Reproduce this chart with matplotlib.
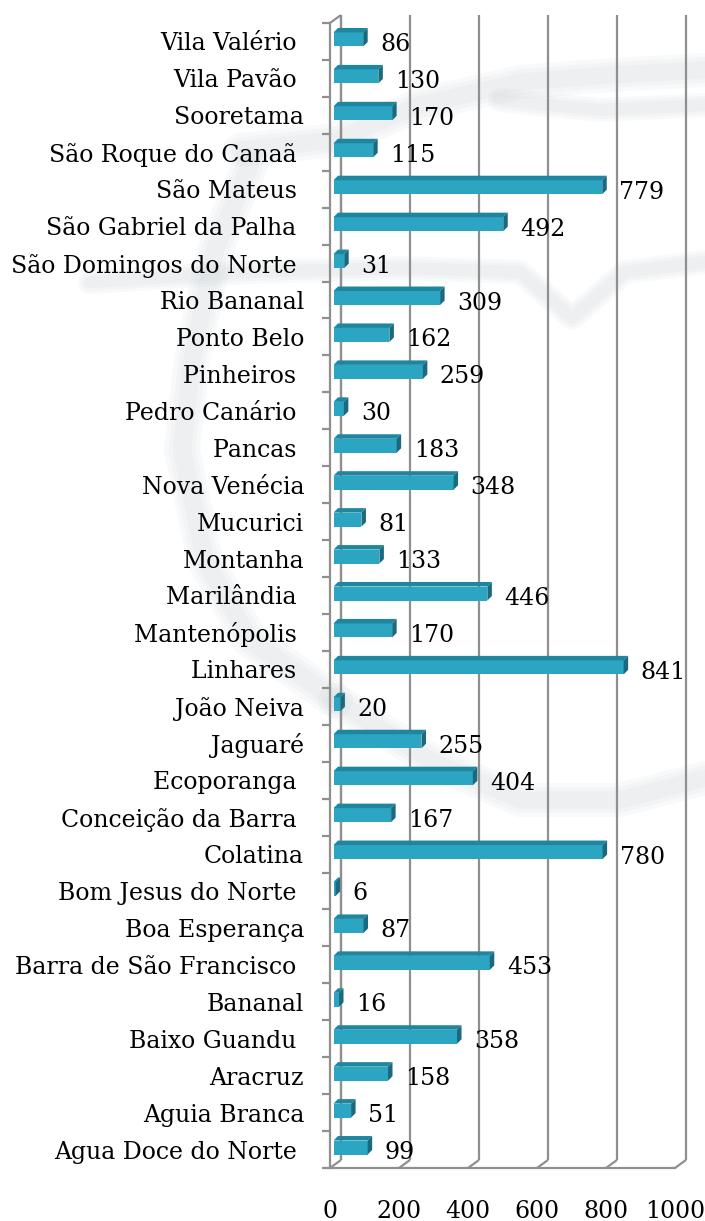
import matplotlib
matplotlib.use('Agg')
import matplotlib.pyplot as plt
from matplotlib.patches import Polygon
import numpy as np

# ---------------- data (top to bottom as shown) ----------------
categories = [
    "Vila Valério ", "Vila Pavão ", "Sooretama", "São Roque do Canaã ",
    "São Mateus ", "São Gabriel da Palha ", "São Domingos do Norte ",
    "Rio Bananal", "Ponto Belo", "Pinheiros ", "Pedro Canário ", "Pancas ",
    "Nova Venécia", "Mucurici", "Montanha", "Marilândia ", "Mantenópolis ",
    "Linhares ", "João Neiva", "Jaguaré", "Ecoporanga ", "Conceição da Barra ",
    "Colatina", "Bom Jesus do Norte ", "Boa Esperança", "Barra de São Francisco ",
    "Bananal", "Baixo Guandu ", "Aracruz", "Aguia Branca", "Agua Doce do Norte ",
]
values = [86, 130, 170, 115, 779, 492, 31, 309, 162, 259, 30, 183, 348, 81, 133,
          446, 170, 841, 20, 255, 404, 167, 780, 6, 87, 453, 16, 358, 158, 51, 99]
x_ticks = [0, 200, 400, 600, 800, 1000]
x_tick_labels = ["0", "200", "400", "600", "800", "1000"]

# ---------------- styling ----------------
plt.rcParams['font.family'] = ['DejaVu Serif']
FS = 17
GRID = '#8f8f8f'
FRONT = '#2ca5c2'
TOPC = '#1f86a0'
SIDE = '#196a7e'
WATER = '#c9d3d6'

W, H = 705, 1221
fig = plt.figure(figsize=(W / 100, H / 100), dpi=100)

# faint, soft background watermark (decorative, in figure pixel coordinates)
def px_line(pts, width):
    xs = [p[0] / W for p in pts]
    ys = [1 - p[1] / H for p in pts]
    for f, a in [(1.0, 0.12), (0.75, 0.12), (0.5, 0.12)]:
        fig.add_artist(plt.Line2D(xs, ys, transform=fig.transFigure, color=WATER,
                                  alpha=a, lw=width * f * 0.72, solid_capstyle='round',
                                  solid_joinstyle='round', zorder=0))

px_line([(240, 150), (335, 140), (420, 105), (520, 82), (610, 75), (705, 70)], 34)
px_line([(500, 100), (600, 110), (705, 105)], 24)
px_line([(90, 282), (250, 272), (400, 268), (520, 272), (572, 318), (625, 272), (705, 262)], 24)
px_line([(250, 165), (215, 250), (192, 360), (182, 450), (205, 560), (250, 640), (335, 700)], 36)
px_line([(335, 700), (430, 760), (520, 800), (620, 800), (705, 778)], 34)

L, R, T, B = 330, 675, 23, 1168
ax = fig.add_axes([L / W, 1 - B / H, (R - L) / W, (B - T) / H])
n = len(categories)
ax.set_xlim(0, 1000)
ax.set_ylim(-0.5, n - 0.5)
ypos = np.arange(n)[::-1]

pxx = (R - L) / 1000.0
pxy = (B - T) / n
def ux(p):
    return p / pxx
def uy(p):
    return p / pxy

# wall / floor offsets
wx, wy = ux(11), uy(8)
lw = 1.6
kw = dict(color=GRID, lw=lw, clip_on=False, solid_capstyle='butt')
for t in x_ticks:
    ax.plot([t + wx, t + wx], [-0.5 + wy, n - 0.5 + wy], zorder=1, **kw)
    ax.plot([t, t + wx], [-0.5, -0.5 + wy], zorder=1, **kw)
# left wall back edge and top edge
ax.plot([wx, wx], [-0.5 + wy, n - 0.5 + wy], zorder=1, **kw)
ax.plot([0, wx], [n - 0.5, n - 0.5 + wy], zorder=1, **kw)

# spines as the front edges
for s in ['top', 'right']:
    ax.spines[s].set_visible(False)
for s in ['left', 'bottom']:
    ax.spines[s].set_color(GRID)
    ax.spines[s].set_linewidth(lw)
    ax.spines[s].set_zorder(2)
ax.patch.set_alpha(0)

# bars (front face through barh, top & side faces as polygons)
sx, sy = ux(3.5), uy(2)
h = uy(14)
dX, dY = ux(4.5), uy(4.5)
ax.barh(ypos + sy, values, height=h, left=sx, color=FRONT, zorder=3, linewidth=0)
for y, v in zip(ypos, values):
    top = y + sy + h / 2
    bot = y + sy - h / 2
    x0, x1 = sx, v + sx
    ax.add_patch(Polygon([(x0, top), (x1, top), (x1 + dX, top + dY), (x0 + dX, top + dY)],
                         closed=True, facecolor=TOPC, edgecolor='none', zorder=3, clip_on=False))
    ax.add_patch(Polygon([(x1, bot), (x1, top), (x1 + dX, top + dY), (x1 + dX, bot + dY)],
                         closed=True, facecolor=SIDE, edgecolor='none', zorder=3, clip_on=False))
    ax.text(v + sx + ux(17), y - uy(3), str(v), ha='left', va='center', fontsize=FS,
            color='black', zorder=4, clip_on=False)

# ticks
ax.set_yticks(ypos)
ax.set_yticklabels(categories, fontsize=FS)
ax.set_yticks(np.arange(n + 1) - 0.5, minor=True)
ax.tick_params(axis='y', which='major', length=0, pad=18.7)
ax.tick_params(axis='y', which='minor', length=5.8, width=lw, color=GRID)
ax.set_xticks(x_ticks)
ax.set_xticklabels(x_tick_labels, fontsize=FS)
ax.tick_params(axis='x', which='major', length=0, pad=23)

fig.savefig('out.png', dpi=100)
